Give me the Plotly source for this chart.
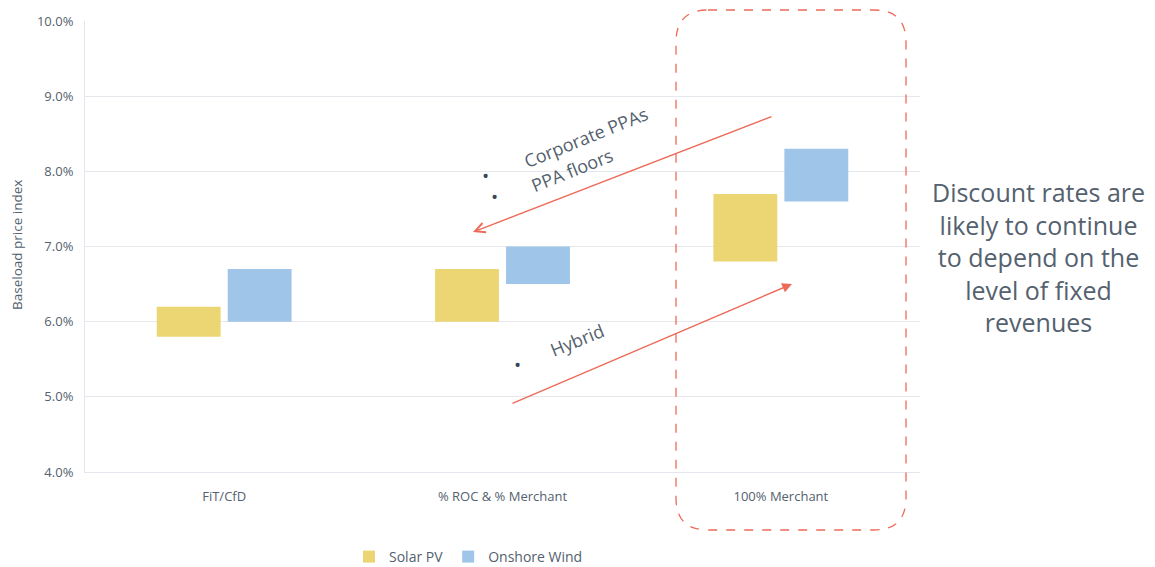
import plotly.graph_objects as go

categories = ["FiT/CfD", "% ROC & % Merchant", "100% Merchant"]
solar_low = [5.8, 6.0, 6.8]
solar_high = [6.2, 6.7, 7.7]
wind_low = [6.0, 6.5, 7.6]
wind_high = [6.7, 7.0, 8.3]
y_ticks = [4, 5, 6, 7, 8, 9, 10]
y_tick_labels = ["4.0%", "5.0%", "6.0%", "7.0%", "8.0%", "9.0%", "10.0%"]

SOLAR = "#ECD673"
WIND = "#9FC5E8"
TXT = "#54616E"
RED = "#EE6A58"
FONT = "Open Sans, Lato, sans-serif"

fig = go.Figure()
fig.add_trace(go.Bar(
    name="Solar PV", x=categories,
    y=[h - l for h, l in zip(solar_high, solar_low)], base=solar_low,
    marker=dict(color=SOLAR, line=dict(width=0)),
))
fig.add_trace(go.Bar(
    name="Onshore Wind", x=categories,
    y=[h - l for h, l in zip(wind_high, wind_low)], base=wind_low,
    marker=dict(color=WIND, line=dict(width=0)),
))

# plot area in pixels: left 85, right 920, top 21, bottom 472
L, R, T, B = 85, 920, 21, 472
def px(xp):
    return (xp - L) / (R - L)
def py(yp):
    return (B - yp) / (B - T)

# rounded dashed box
bl, br, bt, bb = px(676), px(906), py(10), py(530)
rx, ry = 32 / (R - L), 32 / (B - T)
path = (f"M{bl+rx},{bt} L{br-rx},{bt} Q{br},{bt} {br},{bt-ry} "
        f"L{br},{bb+ry} Q{br},{bb} {br-rx},{bb} L{bl+rx},{bb} "
        f"Q{bl},{bb} {bl},{bb+ry} L{bl},{bt-ry} Q{bl},{bt} {bl+rx},{bt} Z")
fig.add_shape(type="path", path=path, xref="paper", yref="paper",
              line=dict(color=RED, width=1.3, dash="dash"), layer="above")

annotations = []
# arrows (head at x,y ; tail at ax,ay) in axis coordinates
def dx(xp):
    return (xp - L) / ((R - L) / 3) - 0.5
def dy(yp):
    return 4 + (B - yp) / ((B - T) / 6)

annotations.append(dict(x=dx(473), y=dy(232), ax=dx(773), ay=dy(116),
                        xref="x", yref="y", axref="x", ayref="y", text="",
                        showarrow=True, arrowhead=5, arrowsize=1.4, arrowwidth=1.4,
                        arrowcolor=RED, standoff=0, startstandoff=0))
annotations.append(dict(x=dx(792), y=dy(284), ax=dx(511), ay=dy(404),
                        xref="x", yref="y", axref="x", ayref="y", text="",
                        showarrow=True, arrowhead=2, arrowsize=1.4, arrowwidth=1.4,
                        arrowcolor=RED, standoff=0, startstandoff=0))

label_font = dict(family=FONT, size=18, color=TXT)
annotations.append(dict(x=dx(586), y=dy(137), xref="x", yref="y", text="Corporate PPAs",
                        showarrow=False, textangle=-22, font=label_font))
annotations.append(dict(x=dx(572), y=dy(170), xref="x", yref="y", text="PPA floors",
                        showarrow=False, textangle=-22, font=label_font))
annotations.append(dict(x=dx(577), y=dy(340), xref="x", yref="y", text="Hybrid",
                        showarrow=False, textangle=-22, font=label_font))
for bx, by in [(485, 176), (494, 197), (517, 365)]:
    annotations.append(dict(x=dx(bx), y=dy(by), xref="x", yref="y", text="•",
                            showarrow=False, font=dict(family=FONT, size=19, color="#3A4856")))

annotations.append(dict(
    x=px(1038), y=py(257), xref="paper", yref="paper",
    text="Discount rates are<br>likely to continue<br>to depend on the<br>level of fixed<br>revenues",
    showarrow=False, align="center", xanchor="center", yanchor="middle",
    font=dict(family=FONT, size=25, color=TXT)))

annotations.append(dict(
    x=px(17), y=py(245), xref="paper", yref="paper", text="Baseload price index",
    showarrow=False, textangle=-90, xanchor="center", yanchor="middle",
    font=dict(family=FONT, size=13.5, color=TXT)))

fig.update_layout(
    width=1155, height=567,
    margin=dict(l=L, r=1155 - R, t=T, b=567 - B, autoexpand=False),
    paper_bgcolor="white", plot_bgcolor="white",
    barmode="group", bargap=0.49, bargroupgap=0.1,
    font=dict(family=FONT, color=TXT),
    showlegend=True,
    legend=dict(orientation="h", x=px(349), y=py(557), xanchor="left", yanchor="middle",
                font=dict(family=FONT, size=14, color=TXT), traceorder="normal"),
    annotations=annotations,
)
fig.update_xaxes(
    type="category", range=[-0.5, 2.5], showgrid=False, showline=True,
    linecolor="#E3E6EC", linewidth=1, ticks="", ticklabelstandoff=12,
    tickfont=dict(family=FONT, size=13, color=TXT),
)
fig.update_yaxes(
    range=[4, 10], tickvals=y_ticks, ticktext=y_tick_labels,
    showgrid=True, gridcolor="#E6E8EE", gridwidth=1,
    showline=True, linecolor="#E3E6EC", linewidth=1, zeroline=False,
    ticks="", ticklabelstandoff=8,
    tickfont=dict(family=FONT, size=13, color=TXT),
)

fig.write_html("out.html")
